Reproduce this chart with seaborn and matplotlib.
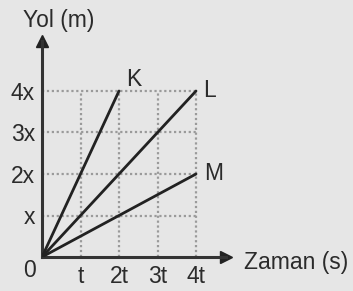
import pandas as pd
import matplotlib.pyplot as plt
import seaborn as sns

# === data ===
lines = ['K', 'L', 'M']
end_time = [2, 4, 4]      # in units of t
end_pos = [4, 4, 2]       # in units of x
x_ticks = [1, 2, 3, 4]
x_labels = ['t', '2t', '3t', '4t']
y_ticks = [1, 2, 3, 4]
y_labels = ['x', '2x', '3x', '4x']

df = pd.DataFrame({
    'line': [n for n in lines for _ in range(2)],
    'time': [v for e in end_time for v in (0, e)],
    'pos': [v for e in end_pos for v in (0, e)],
})

sns.set_theme(style='white')
plt.rcParams['font.family'] = ['Liberation Sans', 'DejaVu Sans']

bg = '#e6e6e6'
ink = '#222222'
txt = '#2b2b2b'
fs = 16.5
W, H = 353, 291
fig = plt.figure(figsize=(W / 100, H / 100), dpi=100, facecolor=bg)

# pixel layout: origin (42,257), 38.5 px per t, 41.5 px per x
ox, oy, sx, sy = 42, 257, 38.5, 41.5
right_px, top_px = 226, 41
ax = fig.add_axes([ox / W, (H - oy) / H, (right_px - ox) / W, (oy - top_px) / H])
ax.set_facecolor(bg)
ax.set_xlim(0, (right_px - ox) / sx)
ax.set_ylim(0, (oy - top_px) / sy)

# dotted grid
for v in x_ticks:
    ax.plot([v, v], [0, 4], color='#9a9a9a', lw=1.6, ls=(0, (1, 1.2)), zorder=1)
for v in y_ticks:
    ax.plot([0, 4], [v, v], color='#9a9a9a', lw=1.6, ls=(0, (1, 1.2)), zorder=1)

sns.lineplot(data=df, x='time', y='pos', hue='line', palette=[ink] * 3,
             lw=2.0, legend=False, ax=ax, zorder=3)

# axes with arrows
for s in ['top', 'right']:
    ax.spines[s].set_visible(False)
for s in ['left', 'bottom']:
    ax.spines[s].set_color('#333333')
    ax.spines[s].set_linewidth(2.2)
ax.plot(1, 0, '>', color='#222222', ms=9, transform=ax.get_yaxis_transform(), clip_on=False)
ax.plot(0, 1, '^', color='#222222', ms=9, transform=ax.get_xaxis_transform(), clip_on=False)

ax.set_xticks(x_ticks, x_labels)
ax.set_yticks(y_ticks, y_labels)
ax.tick_params(length=0, labelsize=fs, labelcolor=txt)
ax.tick_params(axis='x', pad=6)
ax.tick_params(axis='y', pad=5)
ax.set_xlabel('')
ax.set_ylabel('')

# line labels
offsets = {'K': (5, 8), 'L': (5, 0), 'M': (6, 0)}
for n, t, p in zip(lines, end_time, end_pos):
    ax.annotate(n, (t, p), xytext=offsets[n], textcoords='offset points',
                fontsize=fs, color=txt, va='center', ha='left')

ax.text(-0.32, -0.32, '0', fontsize=fs, color=txt, ha='center', va='center')
fig.text(23 / W, 1 - 20 / H, 'Yol (m)', fontsize=fs, color=txt, ha='left', va='center')
fig.text(244 / W, 1 - 263 / H, 'Zaman (s)', fontsize=fs, color=txt, ha='left', va='center')

fig.savefig('out.png', dpi=100, facecolor=bg)
